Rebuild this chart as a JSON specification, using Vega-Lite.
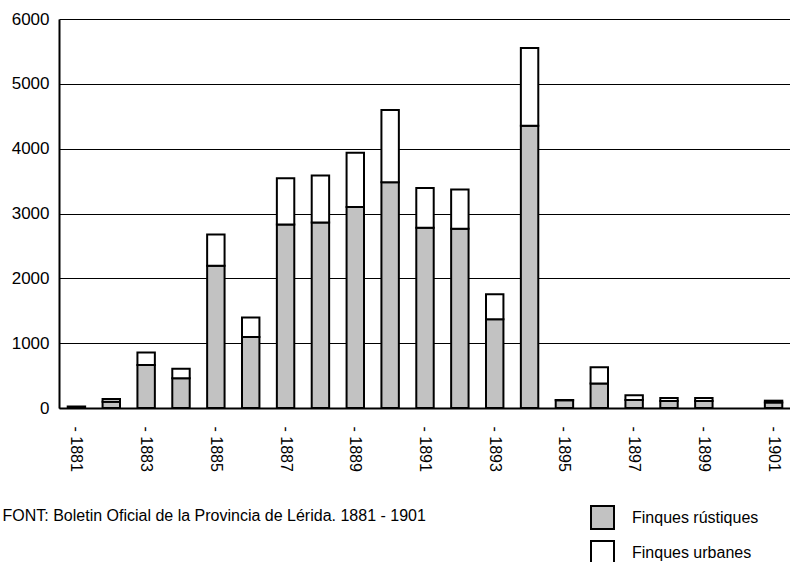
{
  "$schema": "https://vega.github.io/schema/vega-lite/v6.json",
  "width": 732,
  "height": 389,
  "autosize": "none",
  "padding": {"left": 59, "top": 19, "right": 0, "bottom": 154},
  "background": "white",
  "config": {
    "view": {"stroke": null},
    "font": "Liberation Sans"
  },
  "data": {
    "values": [
      {"year": 1881, "type": "Finques rústiques", "value": 25},
      {"year": 1882, "type": "Finques rústiques", "value": 97},
      {"year": 1882, "type": "Finques urbanes", "value": 42},
      {"year": 1883, "type": "Finques rústiques", "value": 665},
      {"year": 1883, "type": "Finques urbanes", "value": 190},
      {"year": 1884, "type": "Finques rústiques", "value": 459},
      {"year": 1884, "type": "Finques urbanes", "value": 148},
      {"year": 1885, "type": "Finques rústiques", "value": 2193},
      {"year": 1885, "type": "Finques urbanes", "value": 485},
      {"year": 1886, "type": "Finques rústiques", "value": 1095},
      {"year": 1886, "type": "Finques urbanes", "value": 302},
      {"year": 1887, "type": "Finques rústiques", "value": 2832},
      {"year": 1887, "type": "Finques urbanes", "value": 711},
      {"year": 1888, "type": "Finques rústiques", "value": 2862},
      {"year": 1888, "type": "Finques urbanes", "value": 726},
      {"year": 1889, "type": "Finques rústiques", "value": 3102},
      {"year": 1889, "type": "Finques urbanes", "value": 836},
      {"year": 1890, "type": "Finques rústiques", "value": 3482},
      {"year": 1890, "type": "Finques urbanes", "value": 1114},
      {"year": 1891, "type": "Finques rústiques", "value": 2781},
      {"year": 1891, "type": "Finques urbanes", "value": 614},
      {"year": 1892, "type": "Finques rústiques", "value": 2766},
      {"year": 1892, "type": "Finques urbanes", "value": 603},
      {"year": 1893, "type": "Finques rústiques", "value": 1370},
      {"year": 1893, "type": "Finques urbanes", "value": 386},
      {"year": 1894, "type": "Finques rústiques", "value": 4355},
      {"year": 1894, "type": "Finques urbanes", "value": 1197},
      {"year": 1895, "type": "Finques rústiques", "value": 120},
      {"year": 1895, "type": "Finques urbanes", "value": 5},
      {"year": 1896, "type": "Finques rústiques", "value": 376},
      {"year": 1896, "type": "Finques urbanes", "value": 254},
      {"year": 1897, "type": "Finques rústiques", "value": 125},
      {"year": 1897, "type": "Finques urbanes", "value": 72},
      {"year": 1898, "type": "Finques rústiques", "value": 108},
      {"year": 1898, "type": "Finques urbanes", "value": 46},
      {"year": 1899, "type": "Finques rústiques", "value": 108},
      {"year": 1899, "type": "Finques urbanes", "value": 46},
      {"year": 1901, "type": "Finques rústiques", "value": 85},
      {"year": 1901, "type": "Finques urbanes", "value": 28}
    ]
  },
  "mark": {"type": "bar", "stroke": "black", "strokeWidth": 2},
  "encoding": {
    "x": {
      "field": "year",
      "type": "ordinal",
      "scale": {
        "domain": [1881, 1882, 1883, 1884, 1885, 1886, 1887, 1888, 1889, 1890, 1891, 1892, 1893, 1894, 1895, 1896, 1897, 1898, 1899, 1900, 1901],
        "paddingInner": 0.5
      },
      "axis": {
        "title": "FONT: Boletin Oficial de la Provincia de Lérida. 1881 - 1901",
        "titleX": -57,
        "titleY": 112,
        "titleAlign": "left",
        "titleAnchor": "start",
        "titleBaseline": "alphabetic",
        "titleFontSize": 16,
        "titleFontWeight": "normal",
        "titleColor": "black",
        "titleFont": "Liberation Sans",
        "labelExpr": "datum.value % 2 == 1 ? '- ' + datum.value : ''",
        "labelAngle": 90,
        "labelAlign": "left",
        "labelBaseline": "middle",
        "labelPadding": 18,
        "labelFontSize": 16,
        "labelColor": "black",
        "labelFont": "Liberation Sans",
        "ticks": false,
        "tickSize": 0,
        "domainColor": "black",
        "domainWidth": 2,
        "grid": false
      }
    },
    "y": {
      "field": "value",
      "type": "quantitative",
      "stack": "zero",
      "scale": {"domain": [0, 6000], "nice": false},
      "axis": {
        "title": null,
        "values": [0, 1000, 2000, 3000, 4000, 5000, 6000],
        "format": "d",
        "labelFontSize": 17,
        "labelColor": "black",
        "labelFont": "Liberation Sans",
        "labelPadding": 10,
        "ticks": false,
        "tickSize": 0,
        "domainColor": "black",
        "domainWidth": 2,
        "grid": true,
        "gridColor": "black",
        "gridWidth": 1.2,
        "gridOpacity": 1
      }
    },
    "color": {
      "field": "type",
      "type": "nominal",
      "scale": {
        "domain": ["Finques rústiques", "Finques urbanes"],
        "range": ["#c2c2c2", "#ffffff"]
      },
      "legend": {
        "title": null,
        "orient": "none",
        "legendX": 531,
        "legendY": 486,
        "symbolType": "square",
        "symbolSize": 529,
        "symbolStrokeColor": "black",
        "symbolStrokeWidth": 2,
        "symbolOpacity": 1,
        "labelFontSize": 16,
        "labelFont": "Liberation Sans",
        "labelColor": "black",
        "labelOffset": 17,
        "labelLimit": 300,
        "rowPadding": 4
      }
    },
    "order": {"field": "type", "sort": "ascending"}
  }
}
